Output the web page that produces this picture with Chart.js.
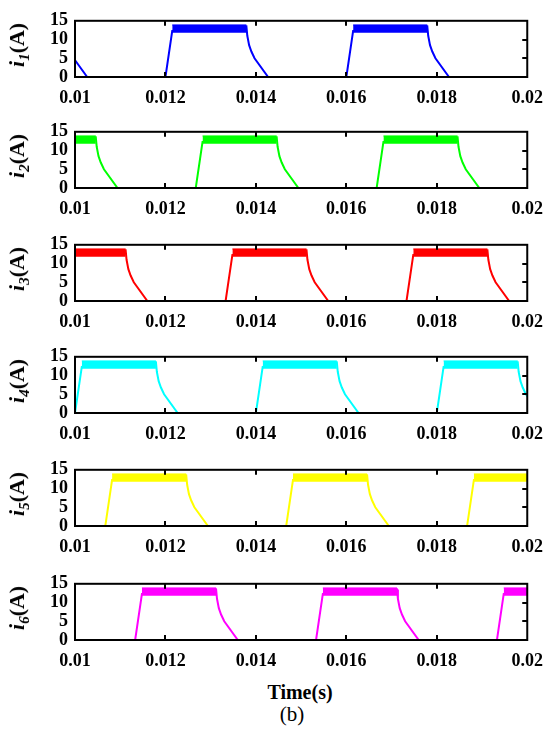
<!DOCTYPE html>
<html>
<head>
<meta charset="utf-8">
<script src="https://cdn.jsdelivr.net/npm/chart.js@4.4.1/dist/chart.umd.min.js"></script>
<style>
  body { margin: 0; background: #fff; width: 554px; height: 733px; position: relative; overflow: hidden; }
  canvas { position: absolute; left: 0; }
  .ylab { position: absolute; left: 19px; font: bold 22px "Liberation Serif"; line-height: 1; white-space: nowrap;
          transform: translate(-50%, -50%) rotate(-90deg); }
  .ylab sub { font-size: 15px; font-style: italic; vertical-align: -5px; }
  .xtitle { position: absolute; left: 300px; top: 692px; font: bold 20px "Liberation Serif"; transform: translate(-50%, -50%); }
  .cap { position: absolute; left: 292px; top: 714px; font: 21px "Liberation Serif"; transform: translate(-50%, -50%); }
</style>
</head>
<body>
<div class="xtitle">Time(s)</div>
<div class="cap">(b)</div>
<script>
var xTicks = [0.01, 0.012, 0.014, 0.016, 0.018, 0.02];
var xTickLabels = ['0.01', '0.012', '0.014', '0.016', '0.018', '0.02'];
var yTicks = [0, 5, 10, 15];

// one conduction pulse: time after its rising edge (s) and current (A)
var pulseTime = [0, 0.00015, 0.00179, 0.00181, 0.00185, 0.00190, 0.00197, 0.00227];
var pulseCurrent = [0, 12.3, 13.5, 11, 8.5, 6.8, 5, 0];

// switching ripple on the flat top
var rippleStart = 0.00015;
var rippleEnd = 0.00179;
var rippleHigh = 13.9;
var rippleLow = 11.8;

// rising edges of each phase current (s)
var rise1 = [0.008, 0.012, 0.016];
var rise2 = [0.00867, 0.01267, 0.01667];
var rise3 = [0.00933, 0.01333, 0.01733];
var rise4 = [0.010, 0.014, 0.018];
var rise5 = [0.01067, 0.01467, 0.01867];
var rise6 = [0.01133, 0.01533, 0.01933];

var phaseNames = ['1', '2', '3', '4', '5', '6'];
var phaseColors = ['#0000ff', '#00ff00', '#ff0000', '#00ffff', '#ffff00', '#ff00ff'];
var phaseRises = [rise1, rise2, rise3, rise4, rise5, rise6];
var plotTops = [13, 124, 237, 349, 462, 576];

var padTop = 10;
var plotH = 64;
var axisH = 32;

var framePlugin = {
  id: 'frame',
  afterDatasetsDraw: function(chart) {
    var a = chart.chartArea, ctx = chart.ctx;
    var xs = chart.scales.x, ys = chart.scales.y;
    ctx.save();
    ctx.strokeStyle = '#000';
    ctx.lineWidth = 2;
    ctx.strokeRect(a.left, a.top, a.right - a.left, a.bottom - a.top);
    ctx.beginPath();
    xTicks.forEach(function(v) {
      var px = Math.round(xs.getPixelForValue(v));
      if (px > a.left + 2 && px < a.right - 2) {
        ctx.moveTo(px, a.bottom); ctx.lineTo(px, a.bottom - 5);
        ctx.moveTo(px, a.top); ctx.lineTo(px, a.top + 5);
      }
    });
    yTicks.forEach(function(v) {
      var py = Math.round(ys.getPixelForValue(v));
      if (py > a.top + 2 && py < a.bottom - 2) {
        ctx.moveTo(a.right, py); ctx.lineTo(a.right - 5, py);
      }
    });
    ctx.stroke();
    ctx.restore();
  }
};

var tickFont = { family: 'Liberation Serif', weight: 'bold', size: 18 };

for (var p = 0; p < 6; p++) {
  var cv = document.createElement('canvas');
  cv.width = 554;
  cv.height = padTop + plotH + axisH;
  cv.style.top = (plotTops[p] - padTop) + 'px';
  document.body.appendChild(cv);

  var lab = document.createElement('div');
  lab.className = 'ylab';
  lab.style.top = (plotTops[p] + plotH / 2) + 'px';
  lab.innerHTML = '<i>i</i><sub>' + phaseNames[p] + '</sub>(A)';
  document.body.appendChild(lab);

  var color = phaseColors[p];
  var wave = [];
  var datasets = [];
  phaseRises[p].forEach(function(t0) {
    for (var k = 0; k < pulseTime.length; k++) {
      wave.push({ x: t0 + pulseTime[k], y: pulseCurrent[k] });
    }
    datasets.push({
      data: [{ x: t0 + rippleStart, y: rippleHigh }, { x: t0 + rippleEnd, y: rippleHigh }],
      borderColor: color,
      backgroundColor: color,
      borderWidth: 1,
      fill: { value: rippleLow }
    });
  });
  datasets.unshift({
    data: wave,
    borderColor: color,
    borderWidth: 2,
    fill: false
  });

  new Chart(cv, {
    type: 'line',
    data: { datasets: datasets },
    options: {
      responsive: false,
      animation: false,
      layout: { padding: { top: padTop, right: 23, left: 0, bottom: 0 } },
      elements: { point: { radius: 0 }, line: { tension: 0 } },
      plugins: { legend: { display: false }, tooltip: { enabled: false } },
      scales: {
        x: {
          type: 'linear', min: 0.01, max: 0.02,
          grid: { display: false, drawTicks: false },
          border: { display: false },
          afterBuildTicks: function(s) { s.ticks = xTicks.map(function(v) { return { value: v }; }); },
          afterFit: function(s) { s.height = axisH; },
          ticks: {
            autoSkip: false, maxRotation: 0, padding: 11, color: '#000', font: tickFont,
            callback: function(v, i) { return xTickLabels[i]; }
          }
        },
        y: {
          min: 0, max: 15,
          grid: { display: false, drawTicks: false },
          border: { display: false },
          afterBuildTicks: function(s) { s.ticks = yTicks.map(function(v) { return { value: v }; }); },
          afterFit: function(s) { s.width = 75; },
          ticks: { autoSkip: false, padding: 7, color: '#000', font: tickFont }
        }
      }
    },
    plugins: [framePlugin]
  });
}
</script>
</body>
</html>
